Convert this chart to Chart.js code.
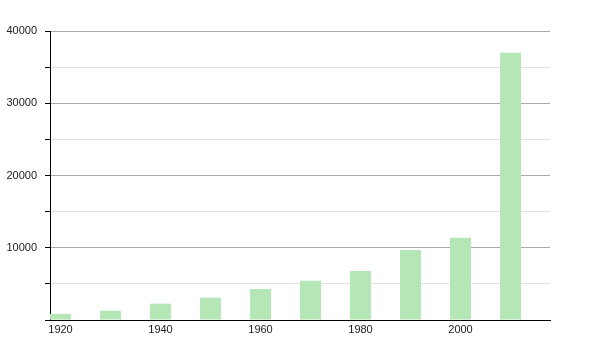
<!DOCTYPE html>
<html>
<head>
<meta charset="utf-8">
<script src="https://cdn.jsdelivr.net/npm/chart.js@4"></script>
<style>
  html, body { margin: 0; padding: 0; background: #fff; }
  #wrap { width: 600px; height: 350px; }
</style>
</head>
<body>
<div id="wrap"><canvas id="chart"></canvas></div>
<script>
// census years and population
const years = [1920, 1930, 1940, 1950, 1960, 1970, 1980, 1990, 2000, 2010];
const population = [850, 1290, 2260, 3090, 4290, 5440, 6780, 9690, 11390, 37000];
const xTicks = [1920, 1940, 1960, 1980, 2000];
const yTicks = [0, 10000, 20000, 30000, 40000];

const points = years.map((y, i) => ({ x: y, y: population[i] }));

Chart.defaults.font.family = '"Liberation Sans", Arial, sans-serif';
Chart.defaults.font.size = 11;
Chart.defaults.color = '#222';

new Chart(document.getElementById('chart'), {
  type: 'bar',
  data: {
    datasets: [{
      data: points,
      backgroundColor: '#b5e6b5',
      borderWidth: 0,
      barPercentage: 0.42,
      categoryPercentage: 1
    }]
  },
  options: {
    responsive: true,
    maintainAspectRatio: false,
    animation: false,
    layout: { padding: { top: 31, right: 50, left: 0, bottom: 0 } },
    plugins: { legend: { display: false }, tooltip: { enabled: false } },
    scales: {
      x: {
        type: 'linear',
        min: 1917.9,
        max: 2017.9,
        offset: false,
        afterFit: (s) => { s.height = 30; },
        afterBuildTicks: (s) => { s.ticks = xTicks.map(v => ({ value: v })); },
        grid: { display: false, drawTicks: false, offset: false },
        border: { display: true, color: '#000', width: 1 },
        ticks: {
          padding: 3,
          maxRotation: 0,
          autoSkip: false,
          callback: (v) => String(v)
        }
      },
      y: {
        min: 0,
        max: 40000,
        afterFit: (s) => { s.width = 50; },
        border: { display: true, color: '#000', width: 1 },
        grid: {
          color: (c) => (yTicks.includes(c.tick.value) ? '#aaaaaa' : '#e2e2e2'),
          tickColor: '#000',
          tickLength: 5,
          drawTicks: true
        },
        ticks: {
          stepSize: 5000,
          padding: 8,
          callback: (v) => (yTicks.includes(v) && v !== 0 ? String(v) : '')
        }
      }
    }
  }
});
</script>
</body>
</html>
